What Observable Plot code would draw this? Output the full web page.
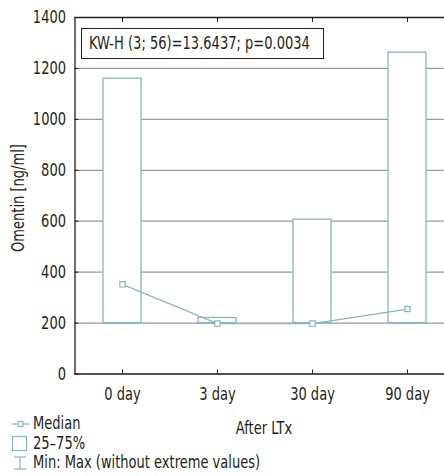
<!DOCTYPE html>
<html>
<head>
<meta charset="utf-8">
<script src="https://cdn.jsdelivr.net/npm/d3@7"></script>
<script src="https://cdn.jsdelivr.net/npm/@observablehq/plot@0.6"></script>
<style>
  html, body { margin: 0; padding: 0; background: #fff; overflow: hidden; width: 444px; height: 476px; }
  #wrap { position: relative; width: 444px; height: 476px; overflow: hidden; font-family: "DejaVu Sans Condensed", sans-serif; color: #231f20; }
  #note { position: absolute; left: 81px; top: 28px; width: 234px; height: 29px; border: 1.3px solid #231f20; font-size: 14.5px; line-height: 29px; padding-left: 7px; box-sizing: content-box; white-space: nowrap; background: #fff; }
  #note span { display: inline-block; transform: scaleY(1.22); }
  #ylabel { position: absolute; left: 18px; top: 198px; transform: translate(-50%, -50%) rotate(-90deg) scaleY(1.22); font-size: 14.5px; white-space: nowrap; }
  #xlabel { position: absolute; left: 264px; top: 428px; transform: translate(-50%, -50%) scaleY(1.22); font-size: 14.5px; white-space: nowrap; }
  #legend { position: absolute; left: 10px; top: 414px; font-size: 14.5px; line-height: 19.5px; }
  #legend div { display: flex; align-items: center; height: 19.5px; }
  #legend svg { margin-right: 1px; }
  #legend span { display: inline-block; transform: scaleY(1.22); }
</style>
</head>
<body>
<div id="wrap">
  <div id="chart"></div>
  <div id="note"><span></span></div>
  <div id="ylabel"></div>
  <div id="xlabel"></div>
  <div id="legend"></div>
</div>
<script>
const days = ["0 day", "3 day", "30 day", "90 day"];
const q25 = [200, 200, 200, 200];
const q75 = [1160, 220, 606, 1262];
const medians = [352, 198, 198, 255];
const yTicks = [0, 200, 400, 600, 800, 1000, 1200, 1400];
const noteText = "KW-H (3; 56)=13.6437; p=0.0034";
const yLabel = "Omentin [ng/ml]";
const xLabel = "After LTx";
const legendItems = ["Median", "25\u201375%", "Min: Max (without extreme values)"];

const teal = "#86b7bf";
const rows = days.map((d, i) => ({day: d, lo: q25[i], hi: q75[i], med: medians[i]}));

const chart = Plot.plot({
  width: 444,
  height: 476,
  marginLeft: 74.5,
  marginRight: -11,
  marginTop: 17,
  marginBottom: 102.5,
  style: {fontFamily: "'DejaVu Sans Condensed', sans-serif", fontSize: "14.5px", color: "#231f20", overflow: "hidden", background: "#fff"},
  x: {type: "band", domain: days, range: [74.5, 454.5], paddingInner: 0.6, paddingOuter: 0.3},
  y: {domain: [0, 1400]},
  marks: [
    Plot.gridY(yTicks, {stroke: "#9a9a9a", strokeOpacity: 1, strokeWidth: 1.3}),
    Plot.barY(rows, {x: "day", y1: "lo", y2: "hi", fill: "white", stroke: teal, strokeWidth: 1.3}),
    Plot.line(rows, {x: "day", y: "med", stroke: teal, strokeWidth: 1.2}),
    Plot.dot(rows, {x: "day", y: "med", symbol: "square", r: 3, fill: "white", stroke: teal, strokeWidth: 1.2}),
    Plot.axisY(yTicks, {tickSize: -4, tickPadding: 13, stroke: "#231f20", tickFormat: d3.format("d"), label: null, fontSize: 14.5}),
    Plot.axisX({anchor: "bottom", tickSize: -4, tickPadding: 17, stroke: "#231f20", label: null, fontSize: 14.5}),
    Plot.axisX({anchor: "top", tickSize: -4, tickFormat: () => "", stroke: "#231f20", label: null}),
    Plot.frame({stroke: "#231f20", strokeWidth: 1.3})
  ]
});
// stretch glyphs vertically to mimic the tall condensed face of the original
chart.querySelectorAll("text").forEach(t => {
  let tr = t.getAttribute("transform") || "";
  const x = t.getAttribute("x"), y = t.getAttribute("y");
  if ((x && !isNaN(+x)) || (y && !isNaN(+y))) {
    tr += ` translate(${+x || 0},${+y || 0})`;
    t.removeAttribute("x"); t.removeAttribute("y");
  }
  t.setAttribute("transform", tr + " scale(1,1.22)");
});
document.getElementById("chart").appendChild(chart);

document.querySelector("#note span").textContent = noteText;
document.getElementById("ylabel").textContent = yLabel;
document.getElementById("xlabel").textContent = xLabel;

const icons = [
  `<svg width="22" height="14"><line x1="2" y1="7" x2="20" y2="7" stroke="${teal}" stroke-width="1.2"/><rect x="8" y="4.5" width="5" height="5" fill="white" stroke="${teal}" stroke-width="1.2"/></svg>`,
  `<svg width="22" height="16"><rect x="2.5" y="1.5" width="14" height="14" fill="white" stroke="${teal}" stroke-width="1.2"/></svg>`,
  `<svg width="22" height="16"><line x1="4" y1="2" x2="16" y2="2" stroke="${teal}" stroke-width="1.2"/><line x1="10" y1="2" x2="10" y2="14" stroke="${teal}" stroke-width="1.2"/><line x1="4" y1="14" x2="16" y2="14" stroke="${teal}" stroke-width="1.2"/></svg>`
];
const leg = document.getElementById("legend");
legendItems.forEach((t, i) => {
  const row = document.createElement("div");
  row.innerHTML = icons[i] + `<span>${t}</span>`;
  leg.appendChild(row);
});
</script>
</body>
</html>
